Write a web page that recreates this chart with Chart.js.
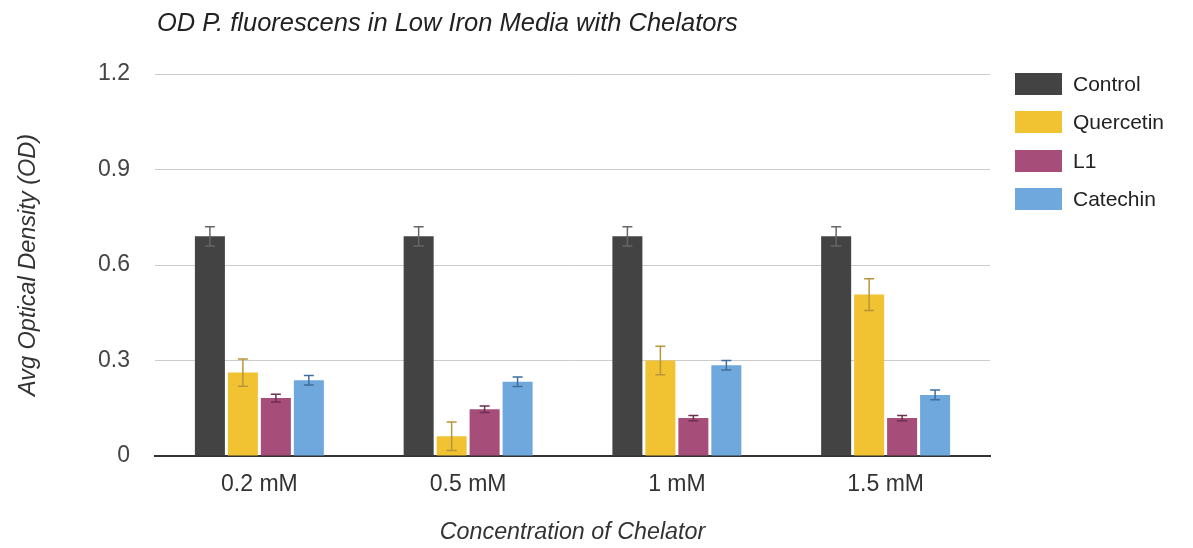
<!DOCTYPE html>
<html>
<head>
<meta charset="utf-8">
<script src="https://cdn.jsdelivr.net/npm/chart.js@4.4.1/dist/chart.umd.min.js"></script>
<style>
  html, body { margin: 0; padding: 0; background: #fff; }
  #wrap { position: relative; width: 1193px; height: 548px; }
  #title { position: absolute; left: 157px; top: 8px; font-family: "Liberation Sans", Arial, sans-serif; font-style: italic; font-size: 25.5px; color: #222; white-space: nowrap; }
  #legend { position: absolute; left: 1015px; top: 73px; font-family: "Liberation Sans", Arial, sans-serif; font-size: 21px; color: #222; }
  .item { display: flex; align-items: center; height: 22px; margin-bottom: 16.3px; }
  .sw { width: 47px; height: 22px; margin-right: 11px; }
</style>
</head>
<body>
<div id="wrap">
  <canvas id="c" width="1193" height="548"></canvas>
  <div id="title">OD P. fluorescens in Low Iron Media with Chelators</div>
  <div id="legend"></div>
</div>
<script>
const categories = ["0.2 mM", "0.5 mM", "1 mM", "1.5 mM"];
const seriesNames = ["Control", "Quercetin", "L1", "Catechin"];
const controlValues   = [0.69, 0.69, 0.69, 0.69];
const quercetinValues = [0.262, 0.062, 0.30, 0.507];
const l1Values        = [0.182, 0.147, 0.119, 0.119];
const catechinValues  = [0.238, 0.233, 0.285, 0.192];
const controlErr   = [0.03, 0.03, 0.03, 0.03];
const quercetinErr = [0.043, 0.045, 0.045, 0.05];
const l1Err        = [0.012, 0.01, 0.008, 0.008];
const catechinErr  = [0.015, 0.015, 0.015, 0.015];
const yTicks = [0, 0.3, 0.6, 0.9, 1.2];

const colors    = ["#434343", "#f1c232", "#a64d79", "#6fa8dc"];
const errColors = ["#666666", "#b8953a", "#6e2f50", "#3f6f9c"];
const values = [controlValues, quercetinValues, l1Values, catechinValues];
const errs = [controlErr, quercetinErr, l1Err, catechinErr];

const FONT = "'Liberation Sans', Arial, sans-serif";

// legend
const lg = document.getElementById('legend');
seriesNames.forEach((n, i) => {
  const d = document.createElement('div'); d.className = 'item';
  const s = document.createElement('div'); s.className = 'sw'; s.style.background = colors[i];
  const t = document.createElement('span'); t.textContent = n;
  d.appendChild(s); d.appendChild(t); lg.appendChild(d);
});

const errorBars = {
  id: 'errorBars',
  afterDatasetsDraw(chart) {
    const ctx = chart.ctx;
    const y = chart.scales.y;
    chart.data.datasets.forEach((ds, di) => {
      const meta = chart.getDatasetMeta(di);
      meta.data.forEach((bar, i) => {
        const v = ds.data[i], e = errs[di][i];
        const yTop = y.getPixelForValue(v + e);
        const yBot = y.getPixelForValue(Math.max(0, v - e));
        const x = bar.x;
        ctx.save();
        ctx.strokeStyle = errColors[di];
        ctx.lineWidth = 1.5;
        ctx.beginPath();
        ctx.moveTo(x, yTop); ctx.lineTo(x, yBot);
        ctx.moveTo(x - 5, yTop); ctx.lineTo(x + 5, yTop);
        ctx.moveTo(x - 5, yBot); ctx.lineTo(x + 5, yBot);
        ctx.stroke();
        ctx.restore();
      });
    });
  }
};

new Chart(document.getElementById('c'), {
  type: 'bar',
  data: {
    labels: categories,
    datasets: seriesNames.map((n, i) => ({
      label: n,
      data: values[i],
      backgroundColor: colors[i],
      borderWidth: 0,
      categoryPercentage: 0.632,
      barPercentage: 0.91
    }))
  },
  options: {
    responsive: false,
    animation: false,
    layout: { padding: { top: 74, right: 203, left: 0, bottom: 0 } },
    plugins: { legend: { display: false }, tooltip: { enabled: false }, title: { display: false } },
    scales: {
      x: {
        grid: { display: false, drawTicks: false },
        border: { display: true, color: '#333', width: 2 },
        ticks: { color: '#333', font: { family: FONT, size: 23 }, padding: 15 },
        title: { display: true, text: 'Concentration of Chelator', color: '#333',
                 font: { family: FONT, size: 23.3, style: 'italic' }, padding: { top: 0, bottom: 1 } },
        afterFit(s) { s.height = 92; }
      },
      y: {
        min: 0, max: 1.2,
        afterBuildTicks(s) { s.ticks = yTicks.map(v => ({ value: v })); },
        grid: { color: '#cccccc', lineWidth: 1, drawTicks: false },
        border: { display: false },
        ticks: { color: '#444', font: { family: FONT, size: 23 }, padding: 25,
                 callback: v => String(v) },
        title: { display: true, text: 'Avg Optical Density (OD)', color: '#333',
                 font: { family: FONT, size: 23.5, style: 'italic' }, padding: { top: 14, bottom: 0 } },
        afterFit(s) { s.width = 155; }
      }
    }
  },
  plugins: [errorBars]
});
</script>
</body>
</html>
